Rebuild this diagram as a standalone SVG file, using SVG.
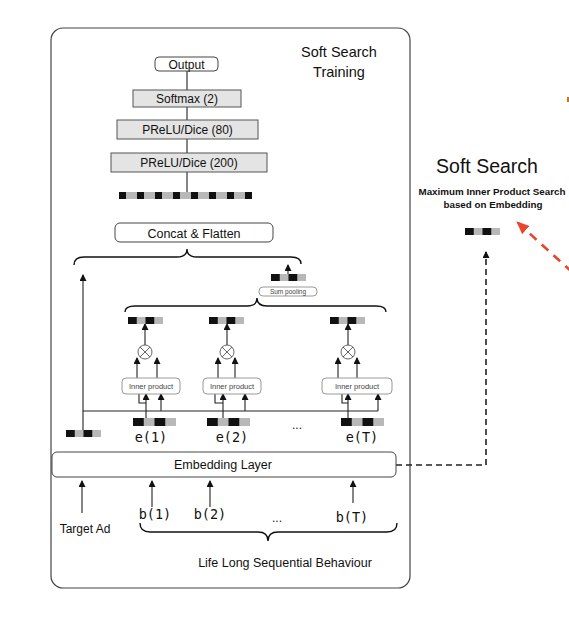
<svg xmlns="http://www.w3.org/2000/svg" width="569" height="617" viewBox="0 0 569 617">
<defs>
<style>
.t{font-family:"Liberation Sans",Arial,sans-serif;fill:#111;text-anchor:middle}
.s{font-family:"Liberation Sans",Arial,sans-serif;fill:#444;text-anchor:middle}
.m{font-family:"DejaVu Sans Mono","Liberation Mono",monospace;fill:#111;text-anchor:middle;font-size:13.5px}
.ln{fill:none;stroke:#222;stroke-width:1.1}
.br{fill:none;stroke:#111;stroke-width:1.4}
.gbox{fill:#e4e4e4;stroke:#555;stroke-width:1}
.wbox{fill:#fff;stroke:#444;stroke-width:1}
.lbox{fill:#fff;stroke:#999;stroke-width:1}
.k{fill:#111}
.g{fill:#b8b8b8}
.ds{fill:none;stroke:#222;stroke-width:1.6;stroke-dasharray:6 4}
.rd{fill:none;stroke:#e8452c;stroke-width:2.6;stroke-dasharray:9 7}
</style>
<marker id="ah" markerUnits="userSpaceOnUse" markerWidth="8" markerHeight="8" refX="6" refY="3.5" orient="auto">
<path d="M0,0 L7,3.5 L0,7 Z" fill="#111"/>
</marker>
<marker id="rah" markerUnits="userSpaceOnUse" markerWidth="14" markerHeight="12" refX="12" refY="5.5" orient="auto">
<path d="M0,0 L13,5.5 L0,11 Z" fill="#e8452c"/>
</marker>
</defs>
<rect width="569" height="617" fill="#fff"/>

<g id="panel">
<rect x="51" y="28" width="359" height="560" rx="12" fill="none" stroke="#444" stroke-width="1.2"/>
<text class="t" x="339" y="57" font-size="14.5">Soft Search</text>
<text class="t" x="339" y="77" font-size="14.5">Training</text>
</g>

<g id="connectors">
<line class="ln" x1="187" y1="71" x2="187" y2="192"/>
<path class="br" d="M74,265 Q74,257 84,257 L177,257 Q187,257 187,249 Q187,257 197,257 L291,257 Q301,257 301,264"/>
<path class="br" d="M125,312 Q125,306 135,306 L247,306 Q257,306 257,298 Q257,306 267,306 L376,306 Q386,306 386,312"/>
<path class="br" d="M140,523 Q140,532 150,532 L258,532 Q268,532 268,541 Q268,532 278,532 L387,532 Q397,532 397,523"/>
<line class="ln" x1="288" y1="274" x2="288" y2="265" marker-end="url(#ah)"/>
<line class="ln" x1="83" y1="430" x2="83" y2="275" marker-end="url(#ah)"/>
<line class="ln" x1="83" y1="411" x2="378" y2="411"/>
<line class="ln" x1="145" y1="345" x2="145" y2="324" marker-end="url(#ah)"/>
<line class="ln" x1="227" y1="345" x2="227" y2="324" marker-end="url(#ah)"/>
<line class="ln" x1="348" y1="345" x2="348" y2="324" marker-end="url(#ah)"/>
<line class="ln" x1="137" y1="378" x2="137" y2="358" marker-end="url(#ah)"/>
<line class="ln" x1="157" y1="378" x2="157" y2="358" marker-end="url(#ah)"/>
<line class="ln" x1="218" y1="378" x2="218" y2="358" marker-end="url(#ah)"/>
<line class="ln" x1="235" y1="378" x2="235" y2="358" marker-end="url(#ah)"/>
<line class="ln" x1="338" y1="378" x2="338" y2="358" marker-end="url(#ah)"/>
<line class="ln" x1="357" y1="378" x2="357" y2="358" marker-end="url(#ah)"/>
<line class="ln" x1="146" y1="418" x2="146" y2="394" marker-end="url(#ah)"/>
<path class="ln" d="M146,403 H139 V394"/>
<line class="ln" x1="161" y1="411" x2="161" y2="394" marker-end="url(#ah)"/>
<line class="ln" x1="223" y1="418" x2="223" y2="394" marker-end="url(#ah)"/>
<path class="ln" d="M223,403 H215 V394"/>
<line class="ln" x1="245" y1="411" x2="245" y2="394" marker-end="url(#ah)"/>
<line class="ln" x1="348" y1="418" x2="348" y2="394" marker-end="url(#ah)"/>
<path class="ln" d="M348,403 H342 V394"/>
<line class="ln" x1="378" y1="411" x2="378" y2="394" marker-end="url(#ah)"/>
<line class="ln" x1="82" y1="513" x2="82" y2="481" marker-end="url(#ah)"/>
<line class="ln" x1="152" y1="507" x2="152" y2="481" marker-end="url(#ah)"/>
<line class="ln" x1="210" y1="507" x2="210" y2="481" marker-end="url(#ah)"/>
<line class="ln" x1="353" y1="503" x2="353" y2="481" marker-end="url(#ah)"/>
<path class="ds" d="M396,465 H486 V252" marker-end="url(#ah)"/>
<path class="rd" d="M572,272 L517,222" marker-end="url(#rah)"/>
</g>

<g id="output"><rect class="wbox" x="155" y="57" width="63" height="14" rx="4"/><text class="t" x="186.5" y="68.5" font-size="12">Output</text></g>
<g id="softmax"><rect class="gbox" x="133" y="90" width="108" height="17"/><text class="t" x="187" y="103" font-size="12">Softmax (2)</text></g>
<g id="prelu80"><rect class="gbox" x="117" y="120" width="141" height="19"/><text class="t" x="187.5" y="134" font-size="12">PReLU/Dice (80)</text></g>
<g id="prelu200"><rect class="gbox" x="111" y="153" width="156" height="19"/><text class="t" x="189" y="167" font-size="12">PReLU/Dice (200)</text></g>
<g id="flat-vector">
<rect class="g" x="119" y="192" width="133" height="7"/>
<rect class="k" x="119" y="192" width="7" height="7"/><rect class="k" x="137" y="192" width="7" height="7"/><rect class="k" x="155" y="192" width="7" height="7"/><rect class="k" x="173" y="192" width="7" height="7"/><rect class="k" x="191" y="192" width="7" height="7"/><rect class="k" x="209" y="192" width="7" height="7"/><rect class="k" x="227" y="192" width="7" height="7"/><rect class="k" x="245" y="192" width="7" height="7"/>
</g>
<g id="concat"><rect class="wbox" x="115" y="223" width="158" height="19" rx="5"/><text class="t" x="194" y="237.5" font-size="12.5">Concat &amp; Flatten</text></g>

<g id="sum-vector"><rect class="g" x="271" y="274" width="35" height="7"/><rect class="k" x="271" y="274" width="8.75" height="7"/><rect class="k" x="288.5" y="274" width="8.75" height="7"/></g>
<g id="sum-pooling"><rect class="lbox" x="259" y="287" width="58" height="9" rx="4"/><text class="s" x="288" y="294" font-size="6.5">Sum pooling</text></g>

<g id="w1"><rect class="g" x="128" y="317" width="35" height="7"/><rect class="k" x="128" y="317" width="8.75" height="7"/><rect class="k" x="145.5" y="317" width="8.75" height="7"/></g>
<g id="w2"><rect class="g" x="209" y="317" width="35" height="7"/><rect class="k" x="209" y="317" width="8.75" height="7"/><rect class="k" x="226.5" y="317" width="8.75" height="7"/></g>
<g id="w3"><rect class="g" x="330" y="317" width="35" height="7"/><rect class="k" x="330" y="317" width="8.75" height="7"/><rect class="k" x="347.5" y="317" width="8.75" height="7"/></g>

<g id="mul1"><circle cx="145" cy="352" r="7" fill="#fff" stroke="#555" stroke-width="0.9"/><path d="M140,347 L150,357 M150,347 L140,357" stroke="#555" stroke-width="0.9"/></g>
<g id="mul2"><circle cx="227" cy="352" r="7" fill="#fff" stroke="#555" stroke-width="0.9"/><path d="M222,347 L232,357 M232,347 L222,357" stroke="#555" stroke-width="0.9"/></g>
<g id="mul3"><circle cx="348" cy="352" r="7" fill="#fff" stroke="#555" stroke-width="0.9"/><path d="M343,347 L353,357 M353,347 L343,357" stroke="#555" stroke-width="0.9"/></g>

<g id="ip1"><rect class="lbox" x="122" y="378" width="58" height="16" rx="4"/><text class="s" x="151" y="389" font-size="7.5">Inner product</text></g>
<g id="ip2"><rect class="lbox" x="203" y="378" width="58" height="16" rx="4"/><text class="s" x="232" y="389" font-size="7.5">Inner product</text></g>
<g id="ip3"><rect class="lbox" x="322" y="378" width="70" height="16" rx="4"/><text class="s" x="357" y="389" font-size="7.5">Inner product</text></g>

<g id="target-vector"><rect class="g" x="66" y="430" width="35" height="7"/><rect class="k" x="66" y="430" width="8.75" height="7"/><rect class="k" x="83.5" y="430" width="8.75" height="7"/></g>
<g id="e1"><rect class="g" x="133" y="418" width="43" height="8"/><rect class="k" x="133" y="418" width="10.75" height="8"/><rect class="k" x="154.5" y="418" width="10.75" height="8"/><text class="m" x="151" y="442">e(1)</text></g>
<g id="e2"><rect class="g" x="207" y="418" width="43" height="8"/><rect class="k" x="207" y="418" width="10.75" height="8"/><rect class="k" x="228.5" y="418" width="10.75" height="8"/><text class="m" x="232" y="442">e(2)</text></g>
<g id="edots"><text class="t" x="297" y="429" font-size="12">...</text></g>
<g id="eT"><rect class="g" x="341" y="418" width="43" height="8"/><rect class="k" x="341" y="418" width="10.75" height="8"/><rect class="k" x="362.5" y="418" width="10.75" height="8"/><text class="m" x="362" y="442">e(T)</text></g>

<g id="embedding"><rect class="wbox" x="52" y="452" width="344" height="25" rx="5"/><text class="t" x="223" y="469" font-size="12.5">Embedding Layer</text></g>

<g id="target-ad"><text class="t" x="85" y="533" font-size="12">Target Ad</text></g>
<g id="b1"><text class="m" x="155" y="519">b(1)</text></g>
<g id="b2"><text class="m" x="210" y="519">b(2)</text></g>
<g id="bdots"><text class="t" x="277" y="522" font-size="12">...</text></g>
<g id="bT"><text class="m" x="352" y="522">b(T)</text></g>
<g id="behaviour"><text class="t" x="285" y="567" font-size="12.5">Life Long Sequential Behaviour</text></g>

<g id="soft-search">
<text class="t" x="487" y="173" font-size="19.5">Soft Search</text>
<text class="t" x="492" y="195" font-size="9.8" font-weight="bold">Maximum Inner Product Search</text>
<text class="t" x="493" y="208" font-size="9.8" font-weight="bold">based on Embedding</text>
</g>
<g id="search-vector"><rect class="g" x="465" y="228" width="35" height="7"/><rect class="k" x="465" y="228" width="8.75" height="7"/><rect class="k" x="482.5" y="228" width="8.75" height="7"/></g>
<rect x="567" y="97" width="2" height="5" fill="#c8741e"/>
</svg>
